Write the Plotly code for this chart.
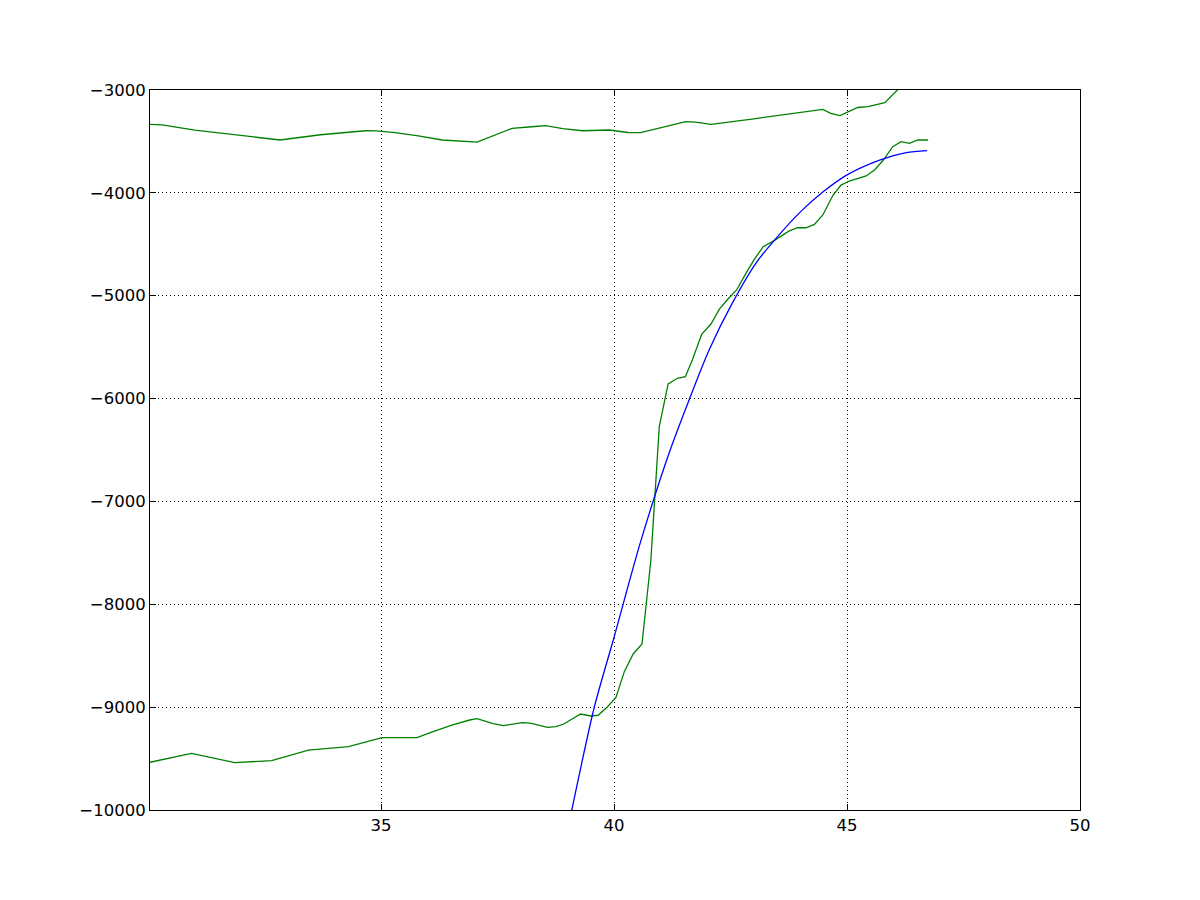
import plotly.graph_objects as go

# Upper green series
upper_x = [30.04, 30.3, 31.0, 32.0, 32.83, 33.7, 34.66, 34.9, 35.3, 35.8, 36.31, 37.06,
           37.81, 38.3, 38.53, 38.9, 39.32, 39.89, 40.3, 40.57, 41.54, 41.75, 42.08,
           43.0, 44.0, 44.48, 44.65, 44.85, 45.23, 45.45, 45.81, 46.06, 46.3]
upper_y = [-3335, -3340, -3390, -3440, -3486, -3435, -3396, -3398, -3415, -3445, -3486, -3506,
           -3373, -3355, -3347, -3375, -3396, -3389, -3413, -3415, -3308, -3312, -3334,
           -3280, -3215, -3188, -3228, -3249, -3170, -3162, -3123, -3010, -2900]

# Lower green series
lower_x = [30.04, 30.93, 31.86, 32.65, 33.44, 34.30, 35.02, 35.77, 36.1, 36.52, 36.9, 37.06,
           37.4, 37.63, 38.03, 38.2, 38.57, 38.75, 38.92, 39.28, 39.50, 39.66, 39.86, 40.04,
           40.22, 40.41, 40.60, 40.79, 40.97, 41.16, 41.36, 41.53, 41.68, 41.88, 42.08, 42.26,
           42.44, 42.63, 42.83, 43.01, 43.20, 43.40, 43.76, 43.94, 44.12, 44.30, 44.48, 44.70,
           44.87, 45.05, 45.41, 45.59, 45.78, 45.98, 46.16, 46.34, 46.52, 46.74]
lower_y = [-9536, -9449, -9540, -9520, -9417, -9384, -9297, -9297, -9240, -9174, -9125, -9112,
           -9160, -9180, -9151, -9155, -9197, -9190, -9164, -9067, -9086, -9079, -8996, -8905,
           -8655, -8483, -8386, -7569, -6273, -5858, -5803, -5787, -5625, -5375, -5275, -5130,
           -5035, -4944, -4783, -4646, -4523, -4474, -4370, -4339, -4339, -4306, -4215, -4021,
           -3924, -3885, -3836, -3778, -3681, -3551, -3502, -3518, -3486, -3486]

# Blue fitted curve
fit_x = [39.0, 39.1, 39.57, 40.0, 40.57, 41.18, 41.61, 42.04, 42.54, 43.05,
         43.5, 44.0, 44.5, 45.0, 45.7, 46.27, 46.72]
fit_y = [-10200, -9984, -9011, -8320, -7391, -6532, -6014, -5528, -5070, -4680,
         -4430, -4185, -3985, -3825, -3681, -3609, -3590]

x_ticks = [35, 40, 45, 50]
y_ticks = [-3000, -4000, -5000, -6000, -7000, -8000, -9000, -10000]

fig = go.Figure()
fig.add_trace(go.Scatter(x=upper_x, y=upper_y, mode="lines",
                         line=dict(color="#008000", width=1.3), showlegend=False))
fig.add_trace(go.Scatter(x=lower_x, y=lower_y, mode="lines",
                         line=dict(color="#008000", width=1.3), showlegend=False))
fig.add_trace(go.Scatter(x=fit_x, y=fit_y, mode="lines",
                         line=dict(color="#0000ff", width=1.3, shape="spline", smoothing=0.8),
                         showlegend=False))

axis_common = dict(
    showline=True, linecolor="black", linewidth=1, mirror="ticks",
    ticks="inside", ticklen=6, tickcolor="black", tickwidth=1,
    showgrid=True, gridcolor="black", gridwidth=1, griddash="1px,3px",
    zeroline=False,
    tickfont=dict(family="DejaVu Sans", size=16.5, color="black"),
)

fig.update_xaxes(range=[30.04, 50], tickvals=x_ticks, ticktext=[str(t) for t in x_ticks],
                 **axis_common)
fig.update_yaxes(range=[-10000, -3000], tickvals=y_ticks,
                 ticktext=["\u2212" + str(abs(t)) for t in y_ticks], **axis_common)

fig.update_layout(
    width=1200, height=900,
    margin=dict(l=142, r=128, t=82, b=98),
    paper_bgcolor="white", plot_bgcolor="white",
    font=dict(family="DejaVu Sans", color="black"),
)

fig.write_html("out.html")
